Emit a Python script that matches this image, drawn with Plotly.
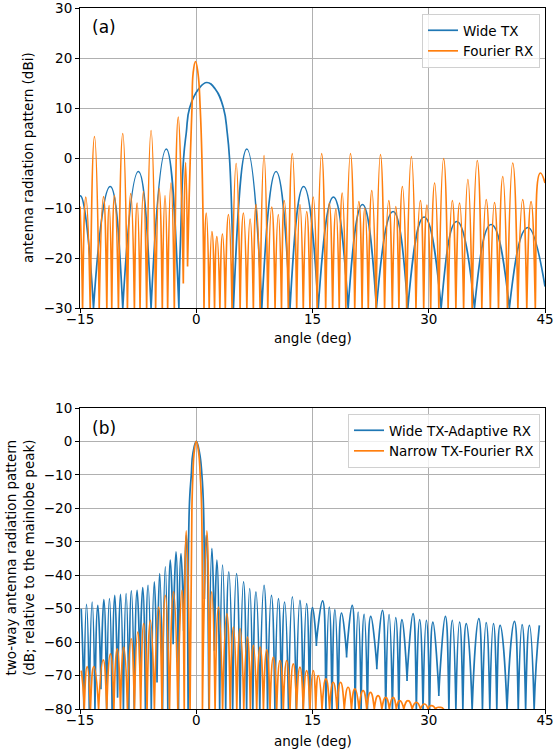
import plotly.graph_objects as go

# ---------------- panel (a) ----------------
# Wide TX : lobe peaks, nulls (value at/below axis floor = null hidden below the axis) and extra main-lobe readings
a_tx_peak_deg = [-14.9, -11.1, -7.46, -3.86, 1.37, 6.52, 10.3, 13.85, 17.7, 21.45, 25.4, 29.4, 33.6, 38.05, 42.8, 45.0]
a_tx_peak_db = [-7.6, -5.7, -2.7, 1.8, 15.1, 1.8, -2.7, -5.7, -7.8, -9.3, -10.7, -11.8, -12.7, -13.3, -13.9, -25.7]
a_tx_null_deg = [-13.26, -9.48, -5.83, -2.24, 4.8, 8.46, 12.1, 15.74, 19.6, 23.25, 27.3, 31.6, 35.9, 40.4]
a_tx_null_db = [-30] * 14
a_tx_side_deg = [-15.0, -2.0, -1.63, -1.29, -0.86, 0.3, 2.45, 3.51, 4.0, 4.29, 4.65]
a_tx_side_db = [-7.7, -15.0, 0.0, 5.0, 10.0, 13.8, 13.8, 10.0, 5.0, 0.0, -15.0]

# Fourier RX
a_rx_peak_deg = [-15.0, -14.25, -13.13, -11.97, -11.24, -10.55, -9.48, -8.45, -7.63, -6.82, -5.83, -4.8, -4.03, -3.26,
                 -2.32, -1.38, -0.1, 1.29, 2.02, 2.66, 3.39, 4.16, 5.15, 6.09, 6.95, 7.72, 8.75, 9.74, 10.59, 11.36,
                 12.39, 13.38, 14.25, 15.1, 16.18, 17.16, 18.02, 18.83, 19.9, 20.98, 21.75, 22.65, 23.77, 24.84,
                 25.74, 26.6, 27.76, 28.92, 29.77, 30.76, 31.92, 33.04, 33.98, 35.05, 36.26, 37.41, 38.48, 39.55,
                 40.84, 42.12, 43.2, 44.4, 45.0]
a_rx_peak_db = [-9.7, -7.8, 4.3, -7.7, -9.5, -7.5, 4.9, -7.1, -9.0, -6.7, 5.5, -6.1, -7.5, -5.0,
                8.2, -0.9, 19.3, -11.0, -14.7, -15.7, -15.2, -11.3, -1.1, -11.0, -12.2, -9.3, 0.5, -9.8, -11.3, -8.5,
                0.9, -9.3, -10.7, -7.8, 0.9, -9.0, -10.2, -7.0, 0.9, -8.7, -10.0, -6.5, 0.7, -8.5,
                -9.7, -5.7, 0.3, -8.5, -9.4, -5.0, -0.1, -8.5, -9.0, -4.3, -0.5, -8.3, -8.9, -3.7,
                -1.0, -8.3, -8.7, -3.0, -5.0]
a_rx_null_deg = [-14.67, -13.68, -12.52, -11.54, -10.9, -10.04, -8.88, -7.98, -7.25, -6.4, -5.24, -4.38, -3.69, -2.83,
                 -1.67, -1.12, 1.0, 1.67, 2.36, 3.05, 3.75, 4.62, 5.66, 6.53, 7.37, 8.24, 9.23, 10.17, 11.0, 11.88,
                 12.96, 13.81, 14.67, 15.6, 16.7, 17.6, 18.45, 19.3, 20.45, 21.4, 22.2, 23.2, 24.3, 25.3, 26.15,
                 27.15, 28.35, 29.35, 30.25, 31.3, 32.5, 33.5, 34.5, 35.6, 36.85, 37.95, 39.0, 40.15, 41.5, 42.65, 43.75]
a_rx_null_db = [-30] * 14 + [-24.7, -21.3] + [-30] * 45
a_rx_side_deg = [-0.77, -0.55, -0.4, 0.22, 0.51, 0.73]
a_rx_side_db = [0.0, 10.0, 17.0, 17.0, 10.0, 0.0]

# ---------------- panel (b) ----------------
b_wa_peak_deg = [-14.84, -14.16, -13.43, -12.7, -11.93, -11.2, -10.51, -9.78, -9.05, -8.37, -7.63, -6.91, -6.22, -5.41,
                 -4.72, -3.99, -3.35, -2.61, -1.97, -1.29, 0.0, 1.29, 2.02, 2.66, 3.39, 4.2, 5.2, 6.1, 6.9, 7.7,
                 8.75, 9.7, 10.6, 11.4, 12.4, 13.38, 14.24, 15.0, 16.3, 17.16, 17.89, 18.75, 20.12, 20.89, 21.66,
                 22.52, 24.02, 24.88, 25.74, 26.55, 27.97, 28.83, 29.69, 30.54, 32.14, 33.04, 33.98, 34.84, 36.46,
                 37.41, 38.35, 39.21, 41.06, 42.05, 42.99, 44.27]
b_wa_peak_db = [-50.0, -48.7, -48.0, -49.0, -47.3, -47.0, -46.0, -45.7, -45.5, -44.7, -44.5, -43.7, -43.0, -42.0,
                -39.5, -37.5, -35.5, -33.0, -33.5, -28.0, 0.0, -28.0, -32.0, -35.5, -37.0, -39.0, -39.5, -42.0, -44.0,
                -45.0, -43.0, -46.0, -47.0, -48.0, -46.5, -47.5, -48.5, -49.7, -47.7, -49.5, -50.3, -51.3, -49.0,
                -51.0, -51.7, -52.3, -50.5, -51.8, -52.7, -53.3, -51.5, -53.3, -53.5, -54.0, -52.3, -53.5, -54.0,
                -54.5, -53.0, -54.2, -54.5, -55.0, -53.8, -54.8, -55.0, -55.0]
b_wa_null_deg = [-14.5, -13.8, -13.07, -12.3, -11.56, -10.86, -10.15, -9.4, -8.7, -8.0, -7.27, -6.56, -5.8, -5.06,
                 -4.35, -3.67, -2.98, -2.29, -1.63, -1.05, 1.05, 1.63, 2.34, 3.02, 3.8, 4.7, 5.65, 6.5, 7.3, 8.2,
                 9.2, 10.15, 11.0, 11.9, 12.9, 13.8, 14.62, 15.5, 16.73, 17.52, 18.32, 19.4, 20.5, 21.27, 22.09,
                 23.3, 24.45, 25.31, 26.14, 27.2, 28.4, 29.26, 30.11, 31.3, 32.6, 33.5, 34.4, 35.6, 36.93, 37.88,
                 38.78, 40.1, 41.55, 42.5, 43.6]
b_wa_null_db = [-80, -80, -80, -73.5, -80, -80, -76, -80, -80, -80, -68, -80, -80, -71.5,
                -80, -80, -60, -80, -56, -80, -46.5, -80, -62, -80, -80, -80, -80, -80, -80, -80,
                -80, -80, -80, -80, -80, -80, -80, -60.5, -80, -80, -80, -64, -80, -80, -80,
                -67.5, -80, -80, -80, -71, -80, -80, -80, -75.5, -80, -80, -80, -80, -80, -80,
                -80, -80, -80, -80, -80]
b_wa_side_deg = [-0.9, -0.64, -0.43, 0.43, 0.73, 0.94]
b_wa_side_db = [-20.0, -10.0, -3.5, -3.5, -10.0, -20.0]

b_nf_peak_deg = [-14.84, -14.07, -13.22, -12.0, -11.07, -10.2, -9.35, -8.4, -7.55, -6.78, -5.92, -4.85, -3.99, -2.92,
                 -1.84, -1.29, 0.0, 1.37, 2.0, 2.87, 3.95, 4.8, 5.66, 6.6, 7.37, 8.24, 9.1, 9.95, 10.81, 11.67, 12.52,
                 13.38, 14.24, 15.1, 15.74, 16.73, 17.67, 18.62, 19.6, 20.46, 21.53, 22.48, 23.46, 24.45, 25.39,
                 26.25, 27.32, 28.4, 29.47, 30.33, 31.4]
b_nf_peak_db = [-68.5, -67.3, -67.3, -65.3, -63.5, -62.0, -61.5, -59.0, -57.0, -54.5, -53.5, -49.5, -46.0, -45.0,
                -44.5, -26.7, 0.0, -26.7, -45.0, -49.5, -51.5, -55.5, -56.0, -58.5, -61.0, -61.5, -62.3, -64.5,
                -65.5, -65.5, -66.5, -67.5, -68.5, -68.5, -70.0, -71.0, -72.0, -72.0, -73.5, -74.0, -74.5, -75.0,
                -76.0, -76.5, -76.5, -77.5, -77.5, -78.0, -78.5, -79.0, -79.5]
b_nf_null_deg = [-14.45, -13.65, -12.6, -11.55, -10.63, -9.78, -8.88, -7.98, -7.17, -6.35, -5.4, -4.42, -3.45, -2.38,
                 -1.55, -0.8, 0.8, 1.68, 2.43, 3.4, 4.38, 5.23, 6.13, 6.98, 7.8, 8.67, 9.52, 10.38, 11.24, 12.1, 12.95,
                 13.81, 14.67, 15.42, 16.23, 17.2, 18.15, 19.1, 20.03, 21.0, 22.0, 22.97, 23.95, 24.92, 25.82, 26.78,
                 27.86, 28.93, 29.9, 30.86, 31.9]
b_nf_null_db = [-80] * 51
b_nf_side_deg = [-0.56, -0.43, -0.28, 0.32, 0.51, 0.69]
b_nf_side_db = [-20.0, -10.0, -3.5, -3.5, -10.0, -20.0]


def build(peak, null, side, floor, deep, tiny):
    """Sort the read points by angle; a null is drawn as a cusp (a short vertical notch,
    or a drop below the axis floor when the null is hidden under the axis)."""
    pts = [(a, v, 0) for a, v in zip(*peak)] + [(a, v, 1) for a, v in zip(*null)] + \
          [(a, v, 0) for a, v in zip(*side)]
    pts.sort()
    xs, ys = [], []
    for a, v, is_null in pts:
        if is_null:
            top = max(v, floor)
            drop = deep if v <= floor else tiny
            xs += [a, a, a]
            ys += [top, top - drop, top]
        else:
            xs.append(a)
            ys.append(v)
    return xs, ys


BLUE = "#1f77b4"
ORANGE = "#ff7f0e"
FONT = "DejaVu Sans"
LW = 1.7

fig = go.Figure()


def add(xy, name, color, xa, ya, leg):
    fig.add_trace(go.Scatter(x=xy[0], y=xy[1], mode="lines", name=name,
                             line=dict(color=color, width=LW, shape="spline", smoothing=1.3, simplify=False),
                             xaxis=xa, yaxis=ya, legend=leg, hoverinfo="skip"))


add(build((a_tx_peak_deg, a_tx_peak_db), (a_tx_null_deg, a_tx_null_db), (a_tx_side_deg, a_tx_side_db), -30, 60, 0.4),
    "Wide TX", BLUE, "x", "y", "legend")
add(build((a_rx_peak_deg, a_rx_peak_db), (a_rx_null_deg, a_rx_null_db), (a_rx_side_deg, a_rx_side_db), -30, 60, 0.4),
    "Fourier RX", ORANGE, "x", "y", "legend")
add(build((b_wa_peak_deg, b_wa_peak_db), (b_wa_null_deg, b_wa_null_db), (b_wa_side_deg, b_wa_side_db), -80, 90, 0.6),
    "Wide TX-Adaptive RX", BLUE, "x2", "y2", "legend2")
add(build((b_nf_peak_deg, b_nf_peak_db), (b_nf_null_deg, b_nf_null_db), (b_nf_side_deg, b_nf_side_db), -80, 90, 0.6),
    "Narrow TX-Fourier RX", ORANGE, "x2", "y2", "legend2")

W, H = 558, 756
L, R, T, B = 80, 13, 8, 47
ph = H - T - B
pw = W - L - R


def fy(py):
    return (H - B - py) / ph


def fx(px):
    return (px - L) / pw


axis_common = dict(showline=True, linecolor="black", linewidth=1, mirror=True, ticks="outside", ticklen=4,
                   tickwidth=1, tickcolor="black", showgrid=True, gridcolor="#b0b0b0", gridwidth=0.8,
                   zeroline=False, automargin=False, ticklabeloverflow="allow",
                   tickfont=dict(family=FONT, size=13.5, color="black"))
xt = dict(range=[-15, 45], tickvals=[-15, 0, 15, 30, 45], ticktext=["\u221215", "0", "15", "30", "45"],
          ticklabelstandoff=-5)

fig.update_layout(
    template="none",
    width=W, height=H, margin=dict(l=L, r=R, t=T, b=B, autoexpand=False), plot_bgcolor="white",
    paper_bgcolor="white", font=dict(family=FONT, size=13.5, color="black"),
    xaxis=dict(domain=[0, 1], anchor="y", **xt, **axis_common),
    yaxis=dict(domain=[fy(308), 1], range=[-30, 30], tickvals=[-30, -20, -10, 0, 10, 20, 30],
               ticktext=["\u221230", "\u221220", "\u221210", "0", "10", "20", "30"], anchor="x", **axis_common),
    xaxis2=dict(domain=[0, 1], anchor="y2", **xt, **axis_common),
    yaxis2=dict(domain=[0, fy(408)], range=[-80, 10], tickvals=list(range(-80, 11, 10)),
                ticktext=[("\u2212" + str(-v)) if v < 0 else str(v) for v in range(-80, 11, 10)], anchor="x2",
                **axis_common),
    legend=dict(x=fx(540), y=fy(14), xref="paper", yref="paper", xanchor="right", yanchor="top",
                bgcolor="rgba(255,255,255,0.8)", bordercolor="#d0d0d0", borderwidth=1,
                font=dict(family=FONT, size=13.5), itemwidth=30, tracegroupgap=0),
    legend2=dict(x=fx(540), y=fy(414), xref="paper", yref="paper", xanchor="right", yanchor="top",
                 bgcolor="rgba(255,255,255,0.8)", bordercolor="#d0d0d0", borderwidth=1,
                 font=dict(family=FONT, size=13.5), itemwidth=30, tracegroupgap=0),
    showlegend=True, hovermode=False,
)

ann = [
    dict(text="(a)", x=fx(90), y=fy(27), xanchor="left"),
    dict(text="(b)", x=fx(90), y=fy(428), xanchor="left"),
    dict(text="angle (deg)", x=0.5, y=fy(338), xanchor="center"),
    dict(text="angle (deg)", x=0.5, y=fy(741), xanchor="center"),
    dict(text="antenna radiation pattern (dBi)", x=fx(28), y=fy(158), xanchor="center", textangle=-90),
    dict(text="two-way antenna radiation pattern<br>(dB; relative to the mainlobe peak)", x=fx(20), y=fy(558),
         xanchor="center", textangle=-90),
]
for a in ann:
    a.update(xref="paper", yref="paper", yanchor="middle", showarrow=False,
             font=dict(size=17 if a["text"] in ("(a)", "(b)") else 13.5, family=FONT, color="black"))
fig.update_layout(annotations=ann)

fig.write_html("out.html", config={"displayModeBar": False},
               post_script="document.body.style.margin='0px';document.body.style.overflow='hidden';")
